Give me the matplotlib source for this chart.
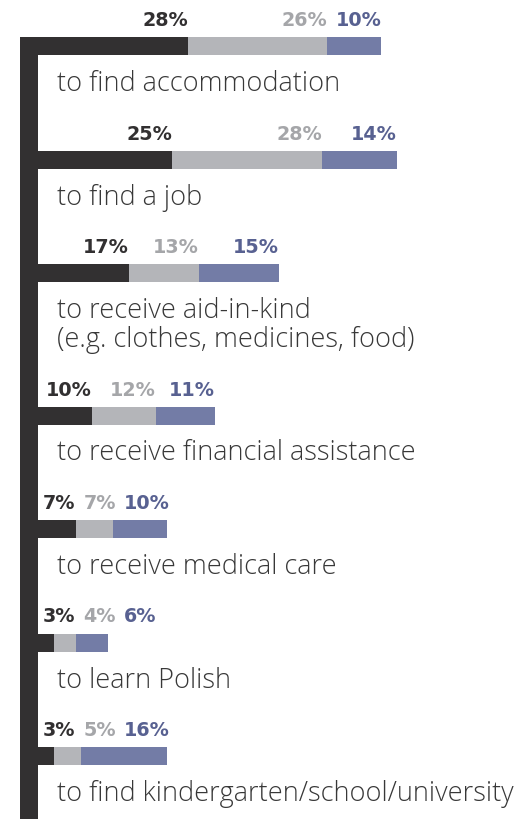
import matplotlib.pyplot as plt
from matplotlib.patches import Rectangle

# Dane
categories = [
    'to find accommodation',
    'to find a job',
    'to receive aid-in-kind\n(e.g. clothes, medicines, food)',
    'to receive financial assistance',
    'to receive medical care',
    'to learn Polish',
    'to find kindergarten/school/university',
]
dark_vals = [28, 25, 17, 10, 7, 3, 3]
gray_vals = [26, 28, 13, 12, 7, 4, 5]
blue_vals = [10, 14, 15, 11, 10, 6, 16]

bar_colors = ['#323031', '#b4b5b9', '#737ca6']
text_colors = ['#323031', '#a5a6a9', '#586191']

W, H = 526, 819
fig = plt.figure(figsize=(W / 100, H / 100), dpi=100)
ax = fig.add_axes([0, 0, 1, 1])
ppu = 5.36   # pixels per percent
x0 = 38      # pixel where bars start
ax.set_xlim(-x0 / ppu, (W - x0) / ppu)
ax.set_ylim(H, 0)
ax.axis('off')

# vertical axis strip
fig.add_artist(Rectangle((20 / W, 0), 18 / W, (H - 37) / H,
                         transform=fig.transFigure, color='#323031', lw=0))

# row centres, extra room for two-line labels
rows = []
pos = 46
for c in categories:
    rows.append(pos)
    pos += 113.5 + 29 * c.count('\n')

series = [dark_vals, gray_vals, blue_vals]
left = [0] * len(categories)
for vals, col in zip(series, bar_colors):
    ax.barh(rows, vals, left=left, height=18, color=col, lw=0)
    left = [a + b for a, b in zip(left, vals)]

fig.canvas.draw()
renderer = fig.canvas.get_renderer()

for i, yc in enumerate(rows):
    # category label under the bar
    for j, line in enumerate(categories[i].split('\n')):
        ax.text((57 - x0) / ppu, yc + 45 + 29 * j, line, ha='left', va='baseline',
                fontsize=19.5, family=['Open Sans', 'DejaVu Sans'], weight='light',
                color='#383838')

    # value labels, right aligned to segment end, pushed right if they collide
    limit_px = x0 + 5
    cum = 0
    for vals, tc in zip(series, text_colors):
        cum += vals[i]
        t = ax.text(cum, yc - 20, f'{vals[i]}%', ha='right', va='baseline',
                    fontsize=13.8, family='DejaVu Sans', weight='bold', color=tc)
        w = t.get_window_extent(renderer).width
        right_px = max(x0 + cum * ppu, limit_px + w)
        t.set_x((right_px - x0) / ppu)
        limit_px = right_px + 8

fig.savefig('out.png', dpi=100)
